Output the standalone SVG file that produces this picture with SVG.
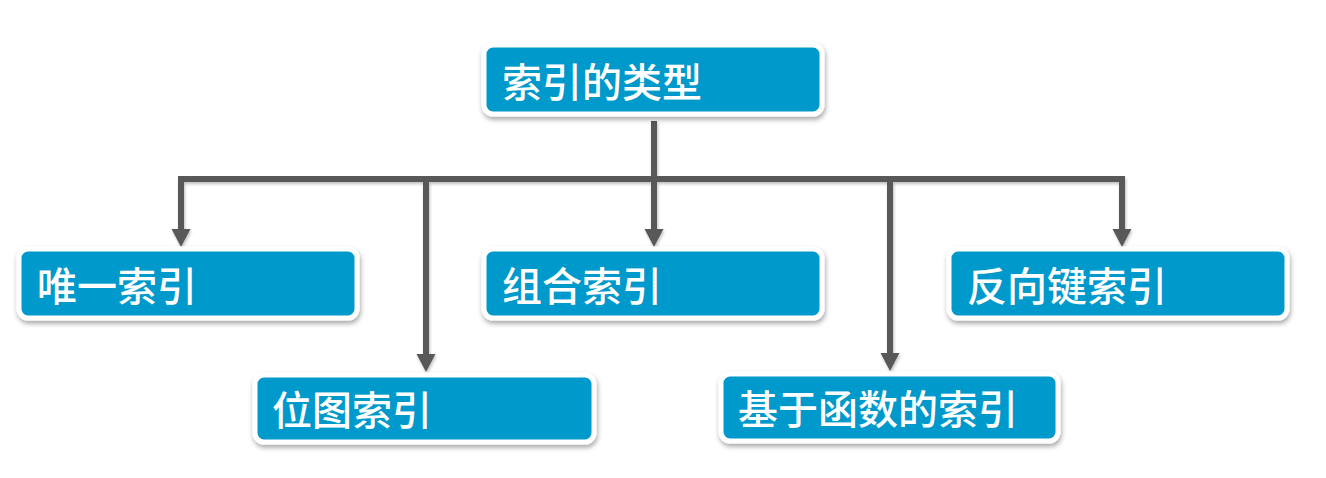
<svg xmlns="http://www.w3.org/2000/svg" width="1326" height="478" viewBox="0 0 1326 478">
<style>
.box{fill:#0199CB;stroke:#FFFFFF;stroke-width:5;filter:url(#sh)}
.lbl{fill:#FFFFFF;font-family:"Microsoft YaHei","Noto Sans CJK SC",sans-serif;font-size:40px;font-weight:500}
.ln{fill:none;stroke:#595959;stroke-width:6;marker-end:url(#ah)}
</style>
<defs>
<filter id="sh" x="-10%" y="-20%" width="120%" height="150%">
<feDropShadow dx="1" dy="3" stdDeviation="2.5" flood-color="#000000" flood-opacity="0.35"/>
</filter>
<filter id="lsh" x="-10%" y="-10%" width="120%" height="120%">
<feDropShadow dx="1" dy="2" stdDeviation="1.5" flood-color="#000000" flood-opacity="0.25"/>
</filter>
<marker id="ah" markerUnits="userSpaceOnUse" viewBox="0 -10 18 20" refX="0" refY="0" markerWidth="18" markerHeight="20" orient="auto">
<path d="M0,-9.5 L18,0 L0,9.5 z" fill="#595959"/>
</marker>
</defs>
<g id="connectors" filter="url(#lsh)">
<path class="ln" d="M654,121 V229"/>
<path class="ln" d="M654,179 H181 V229"/>
<path class="ln" d="M654,179 H1122 V229"/>
<path class="ln" d="M426,179 V354"/>
<path class="ln" d="M890,179 V353"/>
</g>
<g id="root">
<rect class="box" x="484" y="45" width="338" height="69" rx="9"/>
<text class="lbl" x="502" y="97">索引的类型</text>
</g>
<g id="unique">
<rect class="box" x="19" y="249" width="338" height="69" rx="9"/>
<text class="lbl" x="37" y="301">唯一索引</text>
</g>
<g id="bitmap">
<rect class="box" x="255" y="375" width="339" height="67" rx="9"/>
<text class="lbl" x="272" y="425">位图索引</text>
</g>
<g id="composite">
<rect class="box" x="484" y="249" width="338" height="69" rx="9"/>
<text class="lbl" x="502" y="301">组合索引</text>
</g>
<g id="function">
<rect class="box" x="721" y="374" width="337" height="67" rx="9"/>
<text class="lbl" x="738" y="424">基于函数的索引</text>
</g>
<g id="reverse">
<rect class="box" x="949" y="249" width="338" height="69" rx="9"/>
<text class="lbl" x="967" y="301">反向键索引</text>
</g>
</svg>
